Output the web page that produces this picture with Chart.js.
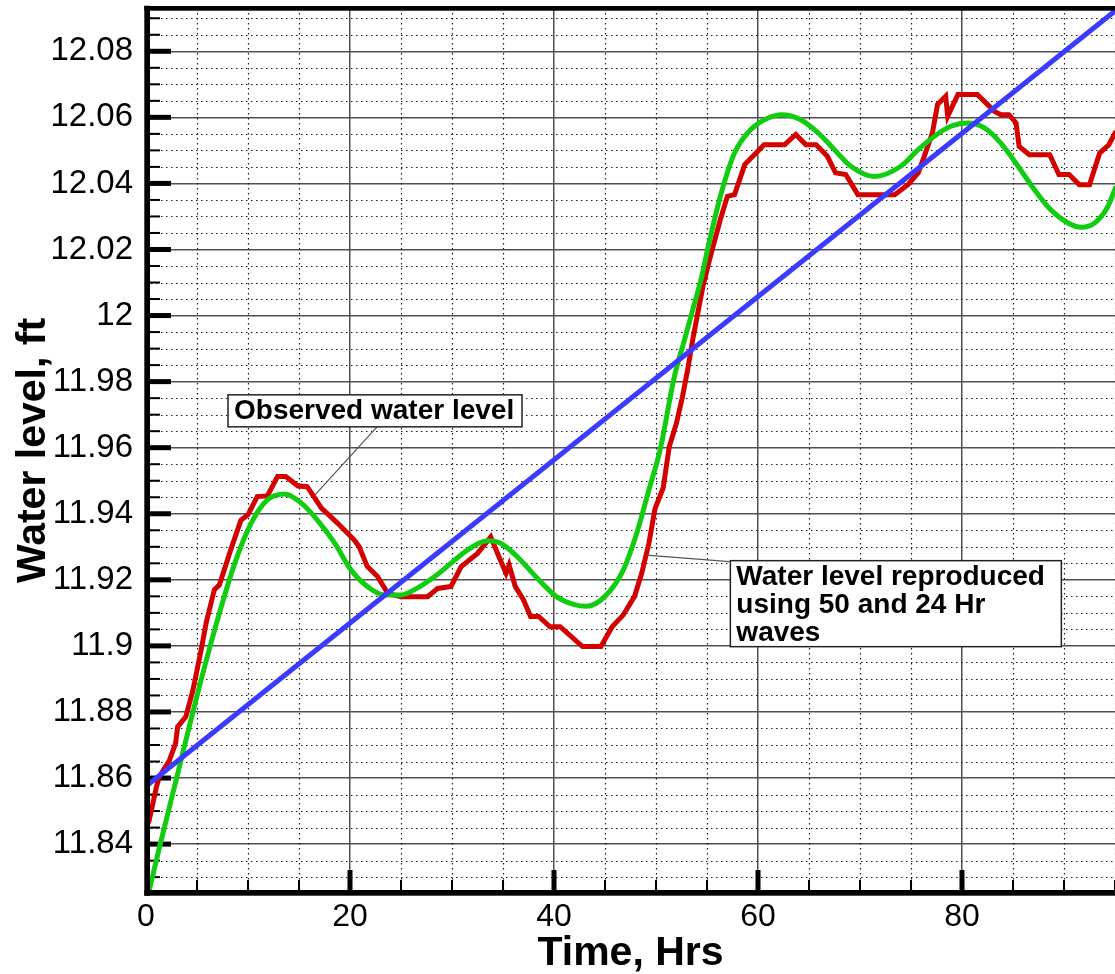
<!DOCTYPE html>
<html><head><meta charset="utf-8">
<script src="https://cdn.jsdelivr.net/npm/chart.js@4.4.1/dist/chart.umd.min.js"></script>
<style>html,body{margin:0;padding:0;background:#fff;overflow:hidden}#wrap{width:1115px;height:974px;position:relative}</style>
</head><body><div id="wrap"><canvas id="c" width="1115" height="974"></canvas></div>
<script>
// ---- data ----
const observedTimes = [0,0.3,1.0,1.3,2.3,2.9,3.1,3.9,4.6,5.4,5.9,6.7,7.2,8.3,9.3,10.0,10.9,11.9,12.9,13.7,14.9,15.8,17.2,18.8,20.4,20.9,21.7,22.7,23.7,25.0,27.6,28.6,29.9,30.9,32.5,33.8,34.6,35.3,35.6,36.2,37.0,37.7,38.5,39.6,40.6,42.8,44.6,45.7,46.8,47.9,48.6,49.3,49.9,50.7,51.3,52.0,52.6,53.1,53.6,54.1,54.6,55.3,56.3,57.0,57.7,58.7,60.6,62.6,63.7,64.7,65.7,66.8,67.6,68.6,69.8,73.4,74.7,75.7,76.3,77.1,77.6,78.4,78.6,79.6,81.5,83.2,83.8,84.6,85.3,85.6,86.6,88.6,89.5,90.5,91.5,92.5,93.5,94.4,95.1];
const observedLevels = [11.845,11.847,11.857,11.8604,11.8654,11.8705,11.8755,11.8785,11.8866,11.8987,11.907,11.917,11.9185,11.929,11.938,11.9397,11.9452,11.9454,11.9513,11.9513,11.9484,11.9482,11.9417,11.9371,11.9321,11.930,11.924,11.921,11.9159,11.9149,11.9149,11.9174,11.918,11.924,11.928,11.933,11.927,11.922,11.9245,11.918,11.914,11.9089,11.9089,11.9058,11.9058,11.8998,11.8998,11.9058,11.9094,11.915,11.922,11.931,11.9415,11.9478,11.9603,11.9674,11.9755,11.9836,11.9927,12.0008,12.0088,12.0175,12.029,12.0361,12.0366,12.0457,12.0517,12.0517,12.0548,12.0517,12.0517,12.0482,12.0432,12.0427,12.0366,12.0366,12.0396,12.0432,12.0482,12.0553,12.0639,12.0664,12.0603,12.0669,12.0669,12.0618,12.0608,12.0608,12.0583,12.0512,12.0487,12.0487,12.0427,12.0427,12.0396,12.0396,12.0492,12.0517,12.0558];

const reproducedTimes = [0,1.4,3.0,4.6,5.4,7.0,8.7,10.3,11.9,13.6,15.2,16.8,18.5,20.1,21.7,23.4,25.0,26.6,28.3,29.9,31.5,33.5,34.8,36.4,38.2,40.2,42.0,43.2,45.0,46.8,48.2,49.3,50.4,51.8,52.8,53.6,54.4,55.2,56.4,57.7,59.3,61.0,62.3,64.2,65.9,67.5,69.1,71.4,74.0,75.7,77.3,78.9,80.6,82.2,83.8,85.5,87.1,88.7,90.4,91.7,93.0,94.3,95.1];
const reproducedLevels = [11.822,11.840,11.860,11.880,11.8897,11.9078,11.925,11.9371,11.9442,11.946,11.9433,11.9381,11.9311,11.923,11.918,11.9154,11.9154,11.9175,11.921,11.925,11.929,11.9318,11.931,11.927,11.921,11.915,11.9125,11.912,11.915,11.923,11.935,11.9472,11.9593,11.9815,11.9927,12.0017,12.0108,12.022,12.0371,12.0492,12.0563,12.0598,12.0608,12.0593,12.0553,12.0502,12.0452,12.0421,12.0452,12.0502,12.0543,12.0573,12.0583,12.0568,12.0522,12.0452,12.0381,12.032,12.028,12.0267,12.028,12.033,12.0391];

const trendTimes = [0, 95];
const trendLevels = [11.8575, 12.0922];

const xTickValues = [0, 20, 40, 60, 80];
const xTickLabels = ['0', '20', '40', '60', '80'];
const yTickValues = [11.84, 11.86, 11.88, 11.90, 11.92, 11.94, 11.96, 11.98, 12.00, 12.02, 12.04, 12.06, 12.08];
const yTickLabels = ['11.84', '11.86', '11.88', '11.9', '11.92', '11.94', '11.96', '11.98', '12', '12.02', '12.04', '12.06', '12.08'];
const xRange = [0, 95];
const yRange = [11.8252, 12.0931];
const xMinorStep = 5;
const yMinorStep = 0.005;

const annotationTexts = [['Observed water level'], ['Water level reproduced', 'using 50 and 24 Hr', 'waves']];
const annotationBoxAt = [[8.04, 11.976], [57.29, 11.9258]];
const annotationPointerFrom = [[22.65, 11.9663], [57.2, 11.9255]];
const annotationPointerTo = [[16.57, 11.9457], [49.05, 11.9275]];

// ---- styling ----
const FONT = '"Liberation Sans", Arial, Helvetica, sans-serif';
const boxSizes = [[294, 32], [331, 86]];

function pts(ts, vs) { return ts.map((t, i) => ({ x: t, y: vs[i] })); }

const decor = {
  id: 'decor',
  beforeDatasetsDraw(chart) {
    const { ctx, chartArea: a, scales: { x, y } } = chart;
    ctx.save();
    ctx.beginPath(); ctx.rect(a.left, a.top, a.right - a.left, a.bottom - a.top); ctx.clip();
    ctx.strokeStyle = '#1a1a1a'; ctx.lineWidth = 1.2; ctx.setLineDash([1.5, 3.5]);
    const kx0 = Math.ceil(x.min / xMinorStep), kx1 = Math.floor(x.max / xMinorStep);
    for (let k = kx0; k <= kx1; k++) {
      if (k % 4 === 0) continue;
      const px = Math.round(x.getPixelForValue(k * xMinorStep)) + 0.5;
      ctx.beginPath(); ctx.moveTo(px, a.top); ctx.lineTo(px, a.bottom); ctx.stroke();
    }
    const ky0 = Math.ceil(y.min / yMinorStep - 1e-6), ky1 = Math.floor(y.max / yMinorStep + 1e-6);
    for (let k = ky0; k <= ky1; k++) {
      if (k % 4 === 0) continue;
      const py = Math.round(y.getPixelForValue(k * yMinorStep)) + 0.5;
      ctx.beginPath(); ctx.moveTo(a.left, py); ctx.lineTo(a.right, py); ctx.stroke();
    }
    ctx.setLineDash([]);
    // inward tick marks
    ctx.fillStyle = '#000';
    for (let k = ky0; k <= ky1; k++) {
      const py = y.getPixelForValue(k * yMinorStep);
      if (k % 4 === 0) ctx.fillRect(a.left, py - 2.5, 25, 5);
      else ctx.fillRect(a.left, py - 1, 14, 2);
    }
    for (let k = kx0; k <= kx1; k++) {
      const px = x.getPixelForValue(k * xMinorStep);
      if (k % 4 === 0) ctx.fillRect(px - 2.5, a.bottom - 23, 5, 23);
      else ctx.fillRect(px - 1, a.bottom - 13, 2, 13);
    }
    ctx.restore();
  },
  afterDatasetsDraw(chart) {
    const { ctx, chartArea: a, scales: { x, y } } = chart;
    ctx.save();
    ctx.fillStyle = '#000';
    // frame
    ctx.fillRect(a.left - 1.7, a.top - 2.3, 5.7, a.bottom - a.top + 5);
    ctx.fillRect(a.left - 1.7, a.bottom - 3, a.right - a.left + 2, 5.7);
    ctx.fillRect(a.left - 1.7, a.top - 2, a.right - a.left + 2, 4.7);
    // annotations
    for (let i = 0; i < annotationTexts.length; i++) {
      const fx = x.getPixelForValue(annotationPointerFrom[i][0]), fy = y.getPixelForValue(annotationPointerFrom[i][1]);
      const tx = x.getPixelForValue(annotationPointerTo[i][0]), ty = y.getPixelForValue(annotationPointerTo[i][1]);
      ctx.strokeStyle = '#555'; ctx.lineWidth = 1.2;
      ctx.beginPath(); ctx.moveTo(fx, fy); ctx.lineTo(tx, ty); ctx.stroke();
      const bx = x.getPixelForValue(annotationBoxAt[i][0]), by = y.getPixelForValue(annotationBoxAt[i][1]);
      const [w, h] = boxSizes[i];
      ctx.fillStyle = '#fff'; ctx.fillRect(bx, by, w, h);
      ctx.strokeStyle = '#222'; ctx.lineWidth = 1.5; ctx.strokeRect(bx, by, w, h);
      ctx.fillStyle = '#000'; ctx.font = 'bold 28px ' + FONT; ctx.textBaseline = 'alphabetic'; ctx.textAlign = 'left';
      annotationTexts[i].forEach((line, j) => ctx.fillText(line, bx + 6, by + 24.5 + j * 28));
    }
    ctx.restore();
  }
};

new Chart(document.getElementById('c'), {
  type: 'line',
  data: {
    datasets: [
      { label: 'Observed water level', data: pts(observedTimes, observedLevels), borderColor: '#d40000', borderWidth: 5, pointRadius: 0, tension: 0, order: 3 },
      { label: 'Water level reproduced', data: pts(reproducedTimes, reproducedLevels), borderColor: '#12cc12', borderWidth: 5, pointRadius: 0, cubicInterpolationMode: 'monotone', order: 2 },
      { label: 'Trend', data: pts(trendTimes, trendLevels), borderColor: '#3b3bff', borderWidth: 5, pointRadius: 0, tension: 0, order: 1 }
    ]
  },
  options: {
    responsive: false, animation: false, devicePixelRatio: 1,
    layout: { padding: { top: 8, left: 0, right: 0, bottom: 0 } },
    plugins: { legend: { display: false }, tooltip: { enabled: false } },
    scales: {
      x: {
        type: 'linear', position: 'bottom', min: xRange[0], max: xRange[1],
        afterBuildTicks: s => { s.ticks = xTickValues.map(v => ({ value: v })); },
        afterFit: s => { s.height = 81; s.paddingLeft = 0; s.paddingRight = 0; },
        ticks: { font: { family: FONT, size: 32 }, color: '#000', padding: 5, maxRotation: 0, autoSkip: false, callback: (v, i) => xTickLabels[i] },
        grid: { color: '#505050', lineWidth: 1.5, drawTicks: false },
        border: { display: false },
        title: { display: true, text: 'Time, Hrs', color: '#000', font: { family: FONT, size: 41, weight: 'bold', lineHeight: 1 }, padding: { top: 0, bottom: 0 } }
      },
      y: {
        type: 'linear', position: 'left', min: yRange[0], max: yRange[1],
        afterBuildTicks: s => { s.ticks = yTickValues.map(v => ({ value: v })); },
        afterFit: s => { s.width = 146; s.paddingTop = 0; s.paddingBottom = 0; },
        ticks: { font: { family: FONT, size: 33 }, color: '#000', padding: 13, autoSkip: false, callback: (v, i) => yTickLabels[i] },
        grid: { color: '#505050', lineWidth: 1.5, drawTicks: false },
        border: { display: false },
        title: { display: true, text: 'Water level, ft', color: '#000', font: { family: FONT, size: 41, weight: 'bold', lineHeight: 1 }, padding: { top: 13, bottom: 0 } }
      }
    }
  },
  plugins: [decor]
});
</script></body></html>
